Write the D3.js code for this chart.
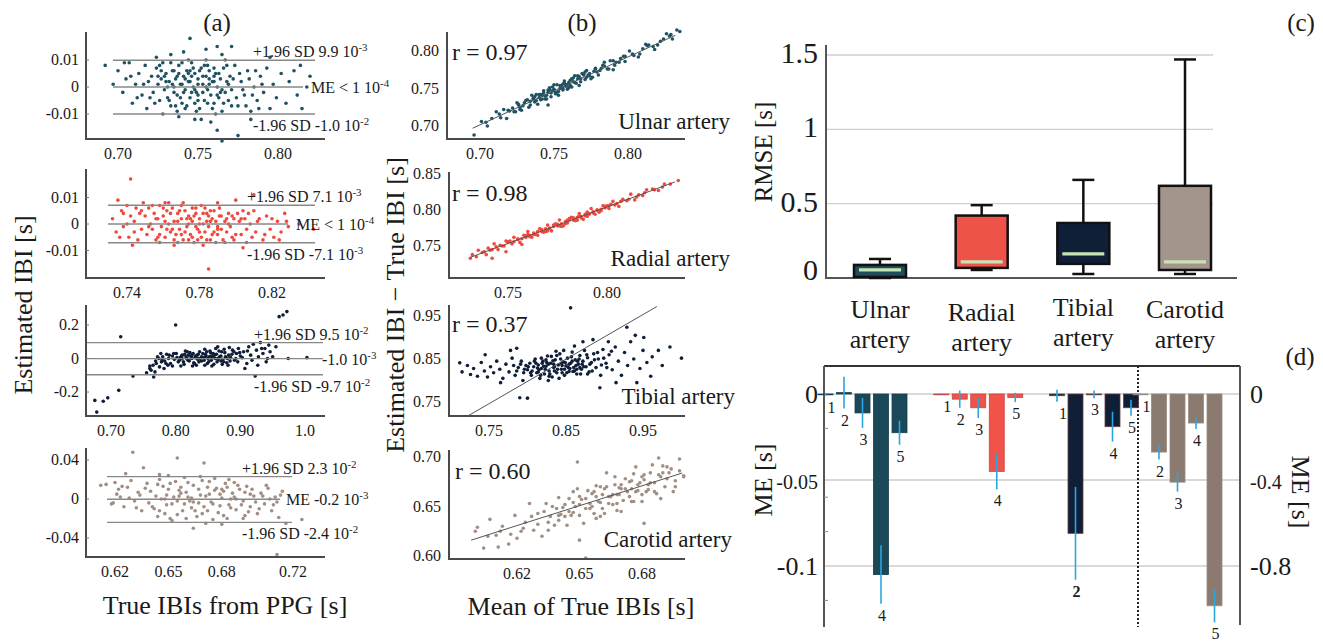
<!DOCTYPE html>
<html><head><meta charset="utf-8">
<script src="https://cdnjs.cloudflare.com/ajax/libs/d3/7.8.5/d3.min.js"></script>
<style>
body{margin:0;background:#fff}
svg{display:block}
text{font-family:"Liberation Serif","Times New Roman",serif;fill:#1a1a1a}
</style></head><body>
<script>
// ---------------- DATA ----------------
const arteries = ["Ulnar artery","Radial artery","Tibial artery","Carotid artery"];
const dotColors = ["#1f5263","#f0493e","#0f1f3a","#a38e82"];
const boxColors = ["#1f4d5d","#ef5249","#101f38","#a3958c"];
const barColors = ["#1b4858","#f0534a","#0f1f38","#8b7a6f"];

// (a) differences vs true IBI
const aUlnar = [[0.721,0.004],[0.722,-0.002],[0.724,0.007],[0.725,0.001],[0.726,-0.005],[0.727,0.003],[0.728,0.009],[0.729,-0.001],[0.730,0.005],[0.731,-0.004],[0.732,0.002],[0.733,-0.007],[0.734,0.006],[0.735,0.000],[0.736,0.003],[0.737,-0.003],[0.738,0.008],[0.739,0.001],[0.740,-0.006],[0.741,0.004],[0.742,-0.001],[0.743,0.006],[0.744,0.002],[0.745,-0.004],[0.746,0.009],[0.747,0.000],[0.748,0.005],[0.749,-0.002],[0.750,0.003],[0.751,-0.008],[0.752,0.007],[0.753,0.001],[0.754,-0.005],[0.755,0.004],[0.756,-0.001],[0.757,0.006],[0.758,-0.003],[0.759,0.002],[0.760,-0.006],[0.761,0.005],[0.762,0.000],[0.763,-0.004],[0.764,0.003],[0.765,-0.009],[0.766,0.007],[0.767,-0.002],[0.768,0.002],[0.769,-0.005],[0.770,0.004],[0.771,-0.001],[0.700,0.006],[0.703,-0.002],[0.705,0.003],[0.707,0.009],[0.709,-0.006],[0.711,0.001],[0.713,0.005],[0.715,-0.003],[0.717,0.008],[0.718,-0.008],[0.719,0.002],[0.692,0.008],[0.697,0.001],[0.773,0.008],[0.775,-0.007],[0.777,0.002],[0.779,-0.003],[0.781,0.006],[0.783,-0.009],[0.785,0.000],[0.787,-0.005],[0.789,0.004],[0.791,-0.002],[0.793,0.007],[0.795,-0.008],[0.797,0.001],[0.799,-0.004],[0.802,0.005],[0.805,-0.006],[0.807,0.002],[0.810,0.006],[0.812,-0.003],[0.815,-0.008],[0.818,0.000],[0.820,0.004],[0.814,0.008],[0.745,0.018],[0.733,0.012],[0.741,0.013],[0.755,0.014],[0.762,0.015],[0.771,0.015],[0.765,0.012],[0.752,-0.012],[0.748,-0.012],[0.762,-0.016],[0.765,-0.020],[0.775,-0.018],[0.758,-0.013],[0.783,-0.012],[0.728,-0.010],[0.738,-0.011],[0.724,0.011],[0.795,0.011],[0.735,-0.002],[0.742,0.003],[0.748,-0.006],[0.753,0.004],[0.757,0.001],[0.744,0.005],[0.739,-0.004],[0.731,0.000],[0.760,0.002],[0.764,-0.002],[0.727,0.006],[0.746,-0.002],[0.750,0.001],[0.756,0.008],[0.737,0.004],
[0.723,-0.006],[0.726,0.008],[0.729,0.004],[0.732,-0.005],[0.734,0.001],[0.736,-0.007],[0.738,0.005],[0.740,0.009],[0.741,-0.002],[0.743,-0.007],[0.745,0.002],[0.747,0.007],[0.748,-0.001],[0.750,-0.005],[0.751,0.006],[0.753,-0.002],[0.754,0.008],[0.756,-0.006],[0.757,0.003],[0.759,-0.008],[0.760,0.007],[0.762,-0.003],[0.763,0.005],[0.765,-0.001],[0.766,-0.006],[0.768,0.008],[0.769,0.001],[0.771,-0.007],[0.772,0.003],[0.774,-0.004],[0.776,0.005],[0.778,-0.001],[0.780,-0.007],[0.782,0.003],[0.784,-0.003],[0.786,0.006],[0.788,-0.008],[0.790,0.001],[0.733,0.009],[0.737,-0.009],[0.744,0.010],[0.749,-0.009],[0.755,0.010],[0.761,-0.010],[0.767,0.010],[0.730,0.002],[0.735,0.006],[0.740,0.001],[0.745,0.006],[0.750,-0.003],[0.755,0.000],[0.760,0.004],[0.725,0.004],[0.716,0.001],[0.712,-0.004],[0.708,0.004],[0.704,0.009],[0.720,-0.004],[0.742,-0.008],[0.746,0.004]];
const aRadial = [[0.750,0.003],[0.751,-0.004],[0.752,0.006],[0.753,0.000],[0.754,-0.002],[0.755,0.004],[0.756,-0.006],[0.757,0.002],[0.758,0.007],[0.759,-0.001],[0.760,0.003],[0.761,-0.005],[0.762,0.005],[0.763,0.000],[0.764,-0.003],[0.765,0.006],[0.766,0.001],[0.767,-0.004],[0.768,0.004],[0.769,-0.002],[0.770,0.002],[0.771,-0.006],[0.772,0.005],[0.773,-0.001],[0.774,0.003],[0.775,-0.004],[0.776,0.001],[0.777,-0.007],[0.778,0.004],[0.779,-0.002],[0.780,0.002],[0.781,-0.005],[0.782,0.000],[0.783,-0.003],[0.784,0.004],[0.785,-0.001],[0.786,-0.006],[0.787,0.002],[0.788,-0.003],[0.789,0.001],[0.790,-0.004],[0.791,0.003],[0.792,-0.002],[0.793,-0.006],[0.794,0.001],[0.795,-0.003],[0.796,0.004],[0.797,-0.001],[0.798,-0.005],[0.799,0.002],[0.763,0.008],[0.768,-0.007],[0.771,0.008],[0.776,0.006],[0.781,0.007],[0.786,0.005],[0.774,-0.006],[0.766,-0.006],[0.758,-0.004],[0.782,-0.008],[0.789,-0.007],[0.761,0.001],[0.778,-0.001],[0.784,0.001],[0.732,0.002],[0.734,-0.003],[0.735,0.009],[0.737,0.005],[0.738,-0.001],[0.740,0.007],[0.741,-0.005],[0.742,0.003],[0.743,-0.008],[0.744,0.001],[0.745,0.006],[0.746,-0.006],[0.747,0.004],[0.748,-0.002],[0.749,0.008],[0.742,0.017],[0.801,0.004],[0.803,-0.004],[0.805,0.002],[0.806,-0.007],[0.808,0.000],[0.810,0.005],[0.811,-0.003],[0.813,0.002],[0.815,-0.006],[0.817,0.003],[0.819,-0.002],[0.821,-0.005],[0.823,0.001],[0.825,-0.003],[0.827,0.004],[0.829,-0.001],[0.810,0.011],[0.843,-0.002],[0.835,0.000],[0.785,-0.017],[0.800,0.009],[0.804,-0.009],[0.790,0.008],
[0.752,-0.001],[0.754,0.007],[0.756,0.002],[0.758,-0.007],[0.760,0.006],[0.762,-0.002],[0.764,0.004],[0.766,-0.008],[0.768,0.001],[0.770,0.007],[0.772,-0.003],[0.774,0.000],[0.776,-0.005],[0.778,0.006],[0.780,-0.003],[0.782,0.004],[0.784,-0.006],[0.786,0.001],[0.788,0.005],[0.790,-0.001],[0.792,0.003],[0.794,-0.007],[0.796,0.000],[0.798,0.003],[0.800,-0.004],[0.802,0.001],[0.804,0.005],[0.806,-0.002],[0.809,-0.005],[0.812,0.001],[0.816,-0.004],[0.820,0.002],[0.824,-0.006],[0.828,0.001],[0.757,-0.005],[0.761,0.008],[0.765,-0.002],[0.769,0.005],[0.773,0.002],[0.777,0.003],[0.779,-0.006],[0.783,0.006],[0.787,-0.004],[0.791,0.006],[0.795,0.002],[0.799,-0.006],[0.803,0.002],[0.807,0.004],[0.740,0.000],[0.744,-0.003],[0.748,0.005],[0.738,0.004],[0.736,-0.005],[0.770,-0.004],[0.775,0.002],[0.780,0.000],[0.785,0.003],[0.790,-0.002]];
const aTibial = [[0.780,0.010],[0.783,-0.015],[0.786,0.025],[0.789,0.000],[0.792,-0.030],[0.795,0.015],[0.798,-0.005],[0.801,0.030],[0.804,-0.020],[0.807,0.005],[0.810,0.020],[0.813,-0.035],[0.816,0.010],[0.819,-0.010],[0.822,0.035],[0.825,0.000],[0.828,-0.025],[0.831,0.015],[0.834,-0.005],[0.837,0.040],[0.840,-0.015],[0.843,0.005],[0.846,0.025],[0.849,-0.030],[0.852,0.010],[0.855,-0.010],[0.858,0.030],[0.861,0.000],[0.864,-0.020],[0.867,0.045],[0.870,0.015],[0.873,-0.005],[0.876,0.035],[0.879,-0.025],[0.882,0.020],[0.885,0.005],[0.888,0.050],[0.891,-0.010],[0.894,0.030],[0.897,0.060],[0.900,0.015],[0.815,0.045],[0.826,-0.045],[0.835,0.025],[0.845,-0.040],[0.853,0.045],[0.862,0.060],[0.872,-0.035],[0.883,0.065],[0.808,-0.045],[0.795,-0.045],[0.820,0.020],[0.840,0.010],[0.850,0.000],[0.830,0.005],[0.860,0.020],[0.870,-0.015],[0.760,-0.060],[0.765,-0.040],[0.768,-0.080],[0.770,-0.030],[0.772,0.010],[0.775,-0.050],[0.778,-0.020],[0.766,-0.110],[0.762,-0.070],[0.755,-0.085],[0.782,-0.060],[0.788,-0.040],[0.777,0.030],[0.905,0.040],[0.910,-0.030],[0.913,0.070],[0.916,0.020],[0.920,0.085],[0.923,-0.105],[0.925,0.050],[0.928,0.010],[0.931,0.095],[0.935,0.030],[0.938,0.060],[0.942,0.000],[0.946,0.040],[0.950,0.010],[0.955,0.070],[0.940,-0.020],[0.907,-0.060],[0.974,0.000],[1.003,0.005],[0.966,0.260],[0.972,0.280],[0.960,0.250],[0.715,0.130],[0.734,-0.105],[0.712,-0.190],[0.675,-0.250],[0.688,-0.255],[0.695,-0.235],[0.678,-0.320],[0.800,0.200],[0.760,-0.045],
[0.802,0.005],[0.806,-0.010],[0.809,0.015],[0.812,-0.020],[0.814,0.025],[0.817,0.000],[0.821,-0.015],[0.824,0.010],[0.827,0.030],[0.829,-0.030],[0.833,0.020],[0.836,-0.020],[0.838,0.000],[0.842,0.030],[0.844,-0.010],[0.847,0.015],[0.851,-0.020],[0.854,0.035],[0.857,0.005],[0.859,-0.035],[0.863,0.025],[0.866,-0.005],[0.868,0.010],[0.871,0.040],[0.874,-0.020],[0.877,0.010],[0.880,0.000],[0.884,-0.015],[0.887,0.025],[0.890,0.040],[0.893,0.000],[0.896,-0.020],[0.899,0.035],[0.790,0.020],[0.785,-0.030],[0.797,0.030],[0.818,0.040],[0.832,-0.040],[0.848,0.040],[0.856,-0.045],[0.875,0.055],[0.865,0.070],[0.845,0.055],[0.825,0.020],[0.835,0.000],[0.845,0.005],[0.855,0.015],[0.865,0.000],[0.810,0.000],[0.820,-0.005],[0.779,-0.008],[0.774,0.000],[0.769,-0.015],[0.881,-0.040],[0.903,0.005],[0.911,0.045],[0.918,-0.010],[0.933,0.060],[0.944,0.080],[0.927,-0.040]];
const aCarotid = [[0.640,0.008],[0.642,-0.010],[0.644,0.015],[0.646,0.000],[0.648,-0.015],[0.650,0.010],[0.652,-0.005],[0.654,0.018],[0.656,0.003],[0.658,-0.012],[0.660,0.007],[0.662,-0.002],[0.664,0.014],[0.666,-0.018],[0.668,0.004],[0.670,-0.008],[0.672,0.012],[0.674,-0.003],[0.676,0.009],[0.678,-0.014],[0.680,0.001],[0.682,0.016],[0.684,-0.006],[0.686,0.006],[0.688,-0.011],[0.690,0.010],[0.692,-0.002],[0.694,0.013],[0.696,-0.008],[0.698,0.003],[0.700,-0.015],[0.645,0.020],[0.651,-0.020],[0.657,0.012],[0.663,-0.009],[0.669,0.019],[0.675,-0.021],[0.681,0.008],[0.687,0.017],[0.693,-0.017],[0.661,0.002],[0.667,-0.004],[0.673,0.005],[0.679,-0.007],[0.655,-0.002],[0.649,0.004],[0.685,0.000],[0.659,0.022],[0.671,-0.025],[0.683,-0.020],[0.612,0.014],[0.615,0.015],[0.618,-0.005],[0.620,0.017],[0.623,0.002],[0.625,-0.008],[0.627,0.012],[0.629,0.019],[0.631,-0.002],[0.633,0.007],[0.635,-0.012],[0.637,0.011],[0.639,-0.004],[0.626,0.026],[0.630,0.048],[0.636,0.032],[0.619,-0.004],[0.622,0.010],[0.702,0.006],[0.704,-0.005],[0.706,0.011],[0.708,-0.012],[0.710,0.002],[0.712,-0.019],[0.714,0.008],[0.716,-0.025],[0.705,0.014],[0.711,-0.003],[0.725,-0.021],[0.711,-0.057],[0.655,0.042],[0.670,0.037],[0.664,-0.030],[0.650,0.024],[0.645,0.025],[0.680,-0.026],
[0.641,-0.008],[0.643,0.003],[0.645,-0.012],[0.647,0.013],[0.649,-0.006],[0.651,0.016],[0.653,0.002],[0.655,-0.016],[0.657,0.006],[0.659,-0.005],[0.661,0.017],[0.663,0.001],[0.665,-0.012],[0.667,0.010],[0.669,-0.015],[0.671,0.003],[0.673,0.018],[0.675,-0.005],[0.677,0.011],[0.679,0.005],[0.681,-0.017],[0.683,0.012],[0.685,-0.009],[0.687,0.002],[0.689,0.014],[0.691,-0.006],[0.693,0.007],[0.695,-0.013],[0.697,0.010],[0.699,-0.003],[0.701,-0.010],[0.703,0.003],[0.707,0.000],[0.709,-0.006],[0.713,0.004],[0.648,0.000],[0.656,0.009],[0.664,-0.003],[0.672,-0.012],[0.680,0.010],[0.688,0.000],[0.696,0.005],[0.634,0.004],[0.638,0.016],[0.632,-0.009],[0.628,0.001],[0.624,0.013],[0.621,0.005],[0.660,-0.020],[0.676,0.021],[0.668,0.023],[0.684,0.020],[0.692,-0.020],[0.652,-0.022],[0.644,-0.018]];
const aXTicks = [[0.70,0.75,0.80],[0.74,0.78,0.82],[0.70,0.80,0.90,1.0],[0.62,0.65,0.68,0.72]];
const aXTickLabels = [["0.70","0.75","0.80"],["0.74","0.78","0.82"],["0.70","0.80","0.90","1.0"],["0.62","0.65","0.68","0.72"]];
const aYTicks = [[0.01,0,-0.01],[0.01,0,-0.01],[0.2,0,-0.2],[0.04,0,-0.04]];
const aYTickLabels = [["0.01","0","-0.01"],["0.01","0","-0.01"],["0.2","0","-0.2"],["0.04","0","-0.04"]];
const aLimits = [[0.0099,0,-0.0100],[0.0071,0,-0.0071],[0.095,-0.001,-0.097],[0.023,-0.0002,-0.024]];
const aLimitText = [
  [["+1.96 SD 9.9 10","-3"],["ME < 1 10","-4"],["-1.96 SD -1.0 10","-2"]],
  [["+1.96 SD 7.1 10","-3"],["ME < 1 10","-4"],["-1.96 SD -7.1 10","-3"]],
  [["+1.96 SD 9.5 10","-2"],["-1.0 10","-3"],["-1.96 SD -9.7 10","-2"]],
  [["+1.96 SD 2.3 10","-2"],["ME -0.2 10","-3"],["-1.96 SD -2.4 10","-2"]]
];

// (b) estimated vs true IBI
const bUlnar = [[0.701,0.706],[0.705,0.700],[0.708,0.710],[0.711,0.719],[0.714,0.711],[0.716,0.722],[0.718,0.710],[0.720,0.720],[0.722,0.724],[0.724,0.719],[0.725,0.731],[0.727,0.725],[0.728,0.721],[0.730,0.731],[0.731,0.734],[0.733,0.725],[0.734,0.733],[0.735,0.741],[0.737,0.732],[0.738,0.742],[0.739,0.729],[0.740,0.738],[0.741,0.742],[0.742,0.736],[0.743,0.747],[0.744,0.740],[0.745,0.736],[0.746,0.745],[0.747,0.748],[0.748,0.739],[0.749,0.747],[0.750,0.755],[0.751,0.745],[0.752,0.755],[0.753,0.741],[0.754,0.750],[0.755,0.754],[0.756,0.748],[0.757,0.760],[0.758,0.753],[0.759,0.749],[0.760,0.758],[0.761,0.761],[0.762,0.752],[0.763,0.759],[0.764,0.767],[0.765,0.757],[0.766,0.767],[0.767,0.754],[0.768,0.763],[0.770,0.768],[0.771,0.762],[0.772,0.774],[0.774,0.767],[0.775,0.763],[0.777,0.773],[0.778,0.776],[0.780,0.768],[0.782,0.777],[0.784,0.785],[0.786,0.776],[0.788,0.787],[0.790,0.775],[0.792,0.785],[0.795,0.790],[0.798,0.786],[0.801,0.800],[0.804,0.794],[0.807,0.792],[0.810,0.803],[0.814,0.808],[0.818,0.802],[0.822,0.813],[0.826,0.823],[0.830,0.816],[0.833,0.828],[0.696,0.688],[0.704,0.705],[0.713,0.716],[0.726,0.728],[0.736,0.737],[0.743,0.744],[0.749,0.752],[0.753,0.746],[0.756,0.756],[0.759,0.755],[0.763,0.764],[0.769,0.770],[0.773,0.768],[0.779,0.772],[0.783,0.781],[0.791,0.781],[0.797,0.793],[0.812,0.809],[0.820,0.808],[0.828,0.820],[0.835,0.826],[0.746,0.728],
[0.719,0.721],[0.723,0.719],[0.726,0.729],[0.729,0.727],[0.732,0.735],[0.734,0.728],[0.736,0.736],[0.738,0.734],[0.740,0.742],[0.742,0.741],[0.744,0.736],[0.746,0.748],[0.748,0.744],[0.750,0.749],[0.752,0.745],[0.754,0.754],[0.756,0.750],[0.758,0.755],[0.760,0.751],[0.762,0.763],[0.764,0.758],[0.766,0.763],[0.768,0.759],[0.770,0.769],[0.772,0.765],[0.774,0.770],[0.776,0.765],[0.778,0.777],[0.781,0.774],[0.784,0.780],[0.787,0.776],[0.790,0.787],[0.794,0.785],[0.798,0.793],[0.803,0.796],[0.808,0.796],[0.813,0.807],[0.817,0.806],[0.824,0.816],[0.829,0.822],[0.727,0.722],[0.737,0.739],[0.747,0.751],[0.757,0.757],[0.767,0.766],[0.751,0.743],[0.761,0.754],[0.771,0.772],[0.741,0.735],[0.745,0.741]];
const bRadial = [[0.732,0.738],[0.734,0.735],[0.735,0.744],[0.737,0.741],[0.739,0.738],[0.740,0.747],[0.742,0.745],[0.743,0.753],[0.745,0.745],[0.746,0.751],[0.748,0.750],[0.749,0.757],[0.751,0.757],[0.752,0.753],[0.753,0.762],[0.755,0.759],[0.756,0.755],[0.758,0.765],[0.759,0.762],[0.760,0.770],[0.762,0.762],[0.763,0.768],[0.764,0.766],[0.766,0.774],[0.767,0.773],[0.768,0.769],[0.770,0.779],[0.771,0.775],[0.772,0.771],[0.774,0.781],[0.775,0.778],[0.776,0.786],[0.778,0.778],[0.779,0.784],[0.780,0.782],[0.782,0.790],[0.783,0.789],[0.784,0.785],[0.786,0.795],[0.787,0.791],[0.788,0.787],[0.790,0.797],[0.791,0.794],[0.792,0.802],[0.794,0.794],[0.795,0.800],[0.797,0.799],[0.798,0.806],[0.800,0.806],[0.801,0.802],[0.803,0.812],[0.805,0.809],[0.806,0.805],[0.808,0.815],[0.810,0.813],[0.812,0.822],[0.814,0.814],[0.816,0.821],[0.818,0.820],[0.820,0.828],[0.823,0.829],[0.826,0.827],[0.829,0.836],[0.832,0.836],[0.836,0.841],[0.742,0.733],[0.749,0.742],[0.757,0.752],[0.765,0.765],[0.769,0.770],[0.777,0.777],[0.781,0.788],[0.785,0.786],[0.789,0.792],[0.793,0.798],[0.796,0.797],[0.799,0.805],[0.802,0.808],[0.761,0.763],[0.773,0.779],[0.750,0.756],[0.731,0.733],
[0.738,0.742],[0.741,0.744],[0.744,0.749],[0.747,0.750],[0.750,0.755],[0.753,0.756],[0.755,0.760],[0.757,0.760],[0.759,0.764],[0.761,0.765],[0.763,0.766],[0.765,0.770],[0.767,0.770],[0.769,0.774],[0.771,0.774],[0.773,0.777],[0.775,0.780],[0.777,0.781],[0.779,0.781],[0.781,0.786],[0.783,0.786],[0.785,0.790],[0.787,0.789],[0.789,0.794],[0.791,0.795],[0.793,0.796],[0.795,0.800],[0.797,0.801],[0.799,0.803],[0.801,0.806],[0.804,0.807],[0.807,0.812],[0.811,0.815],[0.815,0.818],[0.819,0.824],[0.824,0.828],[0.828,0.832],[0.770,0.771],[0.780,0.786],[0.790,0.791],[0.760,0.766],[0.776,0.778],[0.786,0.792]];
const bTibial = [[0.800,0.825],[0.803,0.840],[0.805,0.812],[0.808,0.832],[0.810,0.850],[0.812,0.818],[0.814,0.836],[0.816,0.805],[0.818,0.828],[0.820,0.845],[0.822,0.815],[0.824,0.833],[0.826,0.857],[0.828,0.822],[0.830,0.840],[0.832,0.808],[0.834,0.830],[0.836,0.848],[0.838,0.818],[0.840,0.836],[0.842,0.862],[0.844,0.826],[0.846,0.843],[0.848,0.812],[0.850,0.834],[0.852,0.852],[0.854,0.821],[0.856,0.840],[0.858,0.866],[0.860,0.830],[0.862,0.848],[0.864,0.815],[0.866,0.838],[0.868,0.858],[0.870,0.826],[0.872,0.845],[0.874,0.870],[0.876,0.832],[0.878,0.853],[0.880,0.820],[0.883,0.842],[0.886,0.862],[0.889,0.830],[0.892,0.850],[0.895,0.812],[0.898,0.872],[0.815,0.825],[0.825,0.842],[0.835,0.822],[0.845,0.835],[0.855,0.828],[0.865,0.845],[0.831,0.856],[0.841,0.805],[0.851,0.818],[0.821,0.833],[0.811,0.840],[0.861,0.822],[0.871,0.838],[0.827,0.800],[0.847,0.870],[0.837,0.868],[0.712,0.841],[0.715,0.820],[0.722,0.835],[0.726,0.814],[0.730,0.828],[0.735,0.810],[0.740,0.842],[0.744,0.822],[0.748,0.808],[0.752,0.832],[0.756,0.818],[0.760,0.845],[0.764,0.826],[0.768,0.805],[0.772,0.838],[0.776,0.820],[0.780,0.852],[0.784,0.812],[0.788,0.830],[0.792,0.845],[0.795,0.818],[0.798,0.835],[0.790,0.760],[0.800,0.759],[0.778,0.870],[0.765,0.795],[0.745,0.860],[0.786,0.875],[0.794,0.800],[0.902,0.840],[0.906,0.860],[0.910,0.825],[0.914,0.878],[0.918,0.845],[0.922,0.812],[0.926,0.865],[0.930,0.835],[0.934,0.890],[0.938,0.850],[0.942,0.795],[0.946,0.828],[0.950,0.870],[0.955,0.842],[0.960,0.810],[0.970,0.870],[0.985,0.878],[1.000,0.852],[0.975,0.835],[0.894,0.783],[0.929,0.924],[0.951,0.900],[0.940,0.905],[0.856,0.969],[0.915,0.795],[0.905,0.890],[0.885,0.895],[0.872,0.890],[0.962,0.855],
[0.801,0.832],[0.806,0.822],[0.809,0.845],[0.813,0.829],[0.817,0.812],[0.819,0.840],[0.823,0.826],[0.827,0.838],[0.829,0.815],[0.833,0.846],[0.835,0.832],[0.839,0.826],[0.843,0.850],[0.845,0.818],[0.849,0.842],[0.853,0.830],[0.857,0.855],[0.859,0.821],[0.863,0.835],[0.867,0.850],[0.869,0.815],[0.873,0.832],[0.877,0.860],[0.881,0.838],[0.884,0.822],[0.887,0.848],[0.891,0.865],[0.818,0.852],[0.828,0.810],[0.838,0.858],[0.848,0.826],[0.858,0.845],[0.868,0.830],[0.878,0.815],[0.824,0.848],[0.834,0.838],[0.844,0.840],[0.854,0.838],[0.864,0.826],[0.814,0.820],[0.804,0.818],[0.796,0.826],[0.791,0.838],[0.786,0.822],[0.782,0.835],[0.899,0.852],[0.903,0.830],[0.909,0.868],[0.896,0.836],[0.861,0.880]];
const bCarotid = [[0.600,0.625],[0.604,0.608],[0.607,0.637],[0.610,0.621],[0.613,0.630],[0.616,0.612],[0.619,0.641],[0.622,0.625],[0.624,0.634],[0.626,0.653],[0.628,0.626],[0.630,0.643],[0.632,0.620],[0.634,0.653],[0.636,0.640],[0.637,0.650],[0.638,0.631],[0.640,0.659],[0.641,0.642],[0.642,0.649],[0.644,0.631],[0.645,0.658],[0.646,0.641],[0.648,0.650],[0.649,0.668],[0.650,0.641],[0.651,0.657],[0.652,0.633],[0.654,0.666],[0.655,0.653],[0.656,0.663],[0.657,0.643],[0.658,0.671],[0.660,0.654],[0.661,0.662],[0.662,0.643],[0.663,0.670],[0.664,0.653],[0.666,0.662],[0.667,0.680],[0.668,0.653],[0.669,0.669],[0.670,0.645],[0.672,0.678],[0.673,0.665],[0.674,0.675],[0.675,0.655],[0.676,0.683],[0.678,0.666],[0.679,0.674],[0.680,0.655],[0.681,0.682],[0.682,0.665],[0.684,0.674],[0.685,0.692],[0.686,0.665],[0.688,0.682],[0.689,0.658],[0.690,0.691],[0.692,0.678],[0.694,0.688],[0.696,0.670],[0.698,0.698],[0.700,0.681],[0.611,0.609],[0.601,0.629],[0.649,0.695],[0.688,0.699],[0.700,0.680],[0.653,0.598],[0.650,0.616],[0.681,0.633],[0.645,0.645],[0.655,0.648],[0.665,0.660],[0.675,0.668],[0.683,0.672],[0.660,0.640],[0.670,0.672],[0.640,0.636],[0.630,0.632],[0.620,0.618],[0.692,0.690],[0.677,0.690],[0.663,0.684],[0.647,0.665],[0.635,0.626],[0.695,0.665],[0.658,0.660],[0.668,0.662],
[0.633,0.645],[0.635,0.634],[0.639,0.648],[0.643,0.652],[0.643,0.640],[0.647,0.654],[0.647,0.644],[0.650,0.660],[0.653,0.648],[0.653,0.658],[0.656,0.650],[0.657,0.665],[0.659,0.655],[0.661,0.648],[0.662,0.668],[0.664,0.660],[0.666,0.652],[0.667,0.672],[0.669,0.662],[0.671,0.656],[0.672,0.668],[0.674,0.660],[0.675,0.676],[0.677,0.665],[0.678,0.672],[0.680,0.662],[0.681,0.677],[0.683,0.667],[0.684,0.684],[0.686,0.674],[0.687,0.663],[0.689,0.680],[0.691,0.670],[0.693,0.684],[0.696,0.676],[0.698,0.686],[0.660,0.670],[0.650,0.652],[0.640,0.641],[0.670,0.668],[0.680,0.680],[0.690,0.684],[0.627,0.640],[0.623,0.628],[0.617,0.622],[0.612,0.625],[0.606,0.620],[0.658,0.638],[0.668,0.646],[0.676,0.655]];
const bXTicks = [[0.70,0.75,0.80],[0.75,0.80],[0.75,0.85,0.95],[0.62,0.65,0.68]];
const bYTicks = [[0.80,0.75,0.70],[0.85,0.80,0.75],[0.95,0.85,0.75],[0.70,0.65,0.60]];
const bR = ["r = 0.97","r = 0.98","r = 0.37","r = 0.60"];
const bFitStart = [[0.695,0.697],[0.731,0.7343],[0.723,0.718],[0.598,0.616]];
const bFitEnd = [[0.832,0.821],[0.8343,0.8389],[0.968,0.972],[0.6993,0.6838]];

// (c) RMSE box plots
const rmseMin = [0.000,0.054,0.027,0.027];
const rmseQ1  = [0.007,0.068,0.095,0.054];
const rmseMed = [0.054,0.108,0.162,0.108];
const rmseQ3  = [0.088,0.420,0.370,0.620];
const rmseMax = [0.128,0.490,0.660,1.470];
const rmseTicks = [0,0.5,1,1.5];
const rmseTickLabels = ["0","0.5","1","1.5"];

// (d) mean errors per subject (1-5)
const subjects = ["1","2","3","4","5"];
const meUlnar   = [-0.0003, 0.0008,-0.011,-0.105,-0.0225];
const errUlnar  = [0.0006,0.0093,0.0087,0.017,0.007];
const meRadial  = [-0.0003,-0.003,-0.008,-0.045,-0.002];
const errRadial = [0.0005,0.005,0.006,0.0105,0.0027];
const meTibial  = [-0.001,-0.081,-0.0002,-0.019,-0.008];
const errTibial = [0.0035,0.027,0.0023,0.0087,0.0047];
const meCarotid = [-0.002,-0.27,-0.41,-0.135,-0.985];
const errCarotid= [0.003,0.035,0.044,0.028,0.077];
const meLeftTicks = [0,-0.05,-0.1];
const meLeftTickLabels = ["0","-0.05","-0.1"];
const meLeftMinor = [-0.02,-0.06,-0.08,-0.12];
const meRightTicks = [0,-0.4,-0.8];
const meRightTickLabels = ["0","-0.4","-0.8"];

// ---------------- DRAW ----------------
const svg = d3.select("body").append("svg").attr("width",1323).attr("height",643);
function txt(g,x,y,s,size,anchor){
  return g.append("text").attr("x",x).attr("y",y).attr("font-size",size)
    .attr("text-anchor",anchor||"start").text(s);
}
function supText(g,x,y,base,exp,size){
  const t = g.append("text").attr("x",x).attr("y",y).attr("font-size",size);
  t.append("tspan").text(base);
  t.append("tspan").attr("dy",-6).attr("font-size",size*0.68).text(exp);
  return t;
}
const R = 1.8;

// ---- panel (a)
const aSets = [aUlnar,aRadial,aTibial,aCarotid];
const aLayout = [
  {t:32,b:139,xc:[0.70,118,0.80,278],yc:[0.01,60,-0.01,114],sdX:[113,315],meX:[113,303],tx:253,mx:311},
  {t:169,b:278,xc:[0.74,127,0.82,272],yc:[0.01,197.5,-0.01,250.5],sdX:[108,315],meX:[108,288],tx:247,mx:296},
  {t:305,b:416,xc:[0.70,111,1.0,305],yc:[0.2,325,-0.2,392],sdX:[87,323],meX:[87,323],tx:254,mx:322},
  {t:448,b:557,xc:[0.62,115,0.72,293],yc:[0.04,460,-0.04,538],sdX:[107,292],meX:[107,280],tx:242,mx:286}
];
const aL = 86, aR = 325;
aLayout.forEach((L,i)=>{
  const g = svg.append("g");
  const x = d3.scaleLinear().domain([L.xc[0],L.xc[2]]).range([L.xc[1],L.xc[3]]);
  const y = d3.scaleLinear().domain([L.yc[0],L.yc[2]]).range([L.yc[1],L.yc[3]]);
  g.selectAll("circle").data(aSets[i]).join("circle")
    .attr("cx",d=>x(d[0])).attr("cy",d=>y(d[1])).attr("r",R).attr("fill",dotColors[i]);
  aLimits[i].forEach((v,k)=>{
    const e = k===1 ? L.meX : L.sdX;
    g.append("line").attr("x1",e[0]).attr("x2",e[1]).attr("y1",y(v)).attr("y2",y(v))
      .attr("stroke","#888").attr("stroke-width",1.4);
  });
  g.append("path").attr("d",`M${aL},${L.t}V${L.b}H${aR}`).attr("fill","none")
    .attr("stroke","#4a4a4a").attr("stroke-width",2);
  aYTicks[i].forEach(v=>g.append("line").attr("x1",aL).attr("x2",aL+3).attr("y1",y(v)).attr("y2",y(v))
    .attr("stroke","#777").attr("stroke-width",1));
  aXTicks[i].forEach((v,k)=>txt(g,x(v),L.b+20,aXTickLabels[i][k],16,"middle"));
  aYTicks[i].forEach((v,k)=>txt(g,79,y(v)+5,aYTickLabels[i][k],16,"end"));
  const lt = aLimitText[i];
  supText(g,L.tx,y(aLimits[i][0])-3,lt[0][0],lt[0][1],16);
  supText(g,L.mx,y(aLimits[i][1])+6,lt[1][0],lt[1][1],16);
  supText(g,L.tx,y(aLimits[i][2])+17,lt[2][0],lt[2][1],16);
});
txt(svg,217,31,"(a)",25,"middle");
txt(svg,225,614,"True IBIs from PPG [s]",26,"middle");
svg.append("text").attr("transform","translate(32,305) rotate(-90)").attr("font-size",26)
  .attr("text-anchor","middle").text("Estimated IBI [s]");

// ---- panel (b)
const bSets = [bUlnar,bRadial,bTibial,bCarotid];
const bLayout = [
  {l:447,t:32,b:139,xc:[0.70,480,0.80,628],yc:[0.80,51,0.70,126],rx:452,ry:60,nx:730,ny:129},
  {l:449,t:172,b:278,xc:[0.75,508,0.80,607],yc:[0.85,174,0.75,246],rx:452,ry:201,nx:730,ny:266},
  {l:449,t:305,b:416,xc:[0.75,489,0.95,643],yc:[0.95,316,0.75,402],rx:452,ry:332,nx:735,ny:404},
  {l:449,t:450,b:559,xc:[0.62,517,0.68,642],yc:[0.70,457,0.60,556],rx:455,ry:479,nx:732,ny:547}
];
const bRight = 685;
bLayout.forEach((L,i)=>{
  const g = svg.append("g");
  const x = d3.scaleLinear().domain([L.xc[0],L.xc[2]]).range([L.xc[1],L.xc[3]]);
  const y = d3.scaleLinear().domain([L.yc[0],L.yc[2]]).range([L.yc[1],L.yc[3]]);
  g.selectAll("circle").data(bSets[i]).join("circle")
    .attr("cx",d=>x(d[0])).attr("cy",d=>y(d[1])).attr("r",R).attr("fill",dotColors[i]);
  g.append("line").attr("x1",x(bFitStart[i][0])).attr("y1",y(bFitStart[i][1]))
    .attr("x2",x(bFitEnd[i][0])).attr("y2",y(bFitEnd[i][1]))
    .attr("stroke","#555").attr("stroke-width",1);
  g.append("path").attr("d",`M${L.l},${L.t}V${L.b}H${bRight}`).attr("fill","none")
    .attr("stroke","#4a4a4a").attr("stroke-width",2);
  bXTicks[i].forEach(v=>txt(g,x(v),L.b+20,d3.format(".2f")(v),16,"middle"));
  bYTicks[i].forEach(v=>txt(g,L.l-8,y(v)+5,d3.format(".2f")(v),16,"end"));
  txt(g,L.rx,L.ry,bR[i],24,"start");
  txt(g,L.nx,L.ny,arteries[i],23,"end");
});
txt(svg,582,31,"(b)",25,"middle");
txt(svg,581,615,"Mean of True IBIs [s]",26,"middle");
svg.append("text").attr("transform","translate(404,305) rotate(-90)").attr("font-size",26)
  .attr("text-anchor","middle").text("Estimated IBI \u2212 True IBI [s]");

// ---- panel (c)
const gc = svg.append("g");
const cy = d3.scaleLinear().domain([0,1.5]).range([278,55]);
const cx = d3.scalePoint().domain(arteries).range([880,1185]);
rmseTicks.filter(v=>v>0).forEach(v=>{
  gc.append("line").attr("x1",826).attr("x2",1213).attr("y1",cy(v)).attr("y2",cy(v))
    .attr("stroke","#cfcfcf").attr("stroke-width",1.3);
});
gc.append("path").attr("d",`M826,45V${cy(0)}H1237`).attr("fill","none")
  .attr("stroke","#555").attr("stroke-width",2);
rmseTicks.forEach((v,k)=>txt(gc,818,cy(v)+(v===0?2:8),rmseTickLabels[k],30,"end"));
arteries.forEach((a,i)=>{
  const xc = cx(a), bw=52, cw=22;
  const ln=(x1,y1,x2,y2)=>gc.append("line").attr("x1",x1).attr("y1",y1).attr("x2",x2).attr("y2",y2)
      .attr("stroke","#111").attr("stroke-width",2.5);
  ln(xc,cy(rmseMax[i]),xc,cy(rmseQ3[i]));
  ln(xc,cy(rmseQ1[i]),xc,cy(rmseMin[i]));
  ln(xc-cw/2,cy(rmseMax[i]),xc+cw/2,cy(rmseMax[i]));
  ln(xc-cw/2,cy(rmseMin[i]),xc+cw/2,cy(rmseMin[i]));
  gc.append("rect").attr("x",xc-bw/2).attr("width",bw)
    .attr("y",cy(rmseQ3[i])).attr("height",cy(rmseQ1[i])-cy(rmseQ3[i]))
    .attr("fill",boxColors[i]).attr("stroke","#111").attr("stroke-width",2.5);
  gc.append("line").attr("x1",xc-21).attr("x2",xc+21).attr("y1",cy(rmseMed[i])).attr("y2",cy(rmseMed[i]))
    .attr("stroke","#c8e3b3").attr("stroke-width",3.2);
  const words = a.split(" ");
  const dy = [0,3,-2,0][i];
  const t = gc.append("text").attr("font-size",26).attr("text-anchor","middle");
  t.append("tspan").attr("x",xc).attr("y",318+dy).text(words[0]);
  t.append("tspan").attr("x",xc).attr("y",348+dy).text(words[1]);
});
gc.append("text").attr("transform","translate(772,152) rotate(-90)").attr("font-size",25)
  .attr("text-anchor","middle").text("RMSE [s]");
txt(svg,1301,31,"(c)",25,"middle");

// ---- panel (d)
const gd = svg.append("g");
const dL=824, dR=1240, dT=366, dB=627, divX=1138;
const yl = d3.scaleLinear().domain([0,-0.1]).range([394,566]);
const yr = d3.scaleLinear().domain([0,-0.8]).range([394,566]);
meLeftTicks.forEach(v=>gd.append("line").attr("x1",dL).attr("x2",dR).attr("y1",yl(v)).attr("y2",yl(v))
  .attr("stroke","#cdcdcd").attr("stroke-width",1.3));
gd.append("line").attr("x1",dL).attr("x2",dR).attr("y1",dT).attr("y2",dT).attr("stroke","#333").attr("stroke-width",2);
gd.append("line").attr("x1",dL).attr("x2",dL).attr("y1",dT).attr("y2",dB).attr("stroke","#555").attr("stroke-width",2);
gd.append("line").attr("x1",dR).attr("x2",dR).attr("y1",dT).attr("y2",dB-2).attr("stroke","#555").attr("stroke-width",2);
meLeftMinor.forEach(v=>gd.append("line").attr("x1",dL).attr("x2",dL+4).attr("y1",yl(v)).attr("y2",yl(v))
  .attr("stroke","#888").attr("stroke-width",1));
gd.append("line").attr("x1",divX).attr("x2",divX).attr("y1",dT).attr("y2",dB)
  .attr("stroke","#222").attr("stroke-width",2).attr("stroke-dasharray","2,2");
const groupX = d3.scalePoint().domain(arteries.slice(0,3)).range([862.5,1094]);
const barX = d3.scaleBand().domain(subjects).range([-44.5,44.5]).paddingInner(0.19);
const groups = [
  {me:meUlnar,err:errUlnar,y:yl,cx:groupX(arteries[0])},
  {me:meRadial,err:errRadial,y:yl,cx:groupX(arteries[1])},
  {me:meTibial,err:errTibial,y:yl,cx:groupX(arteries[2])},
  {me:meCarotid,err:errCarotid,y:yr,cx:divX+39.5}
];
const barStroke = ["#163c4a","#c9463e","#6b3a3a","#9a8b82"];
groups.forEach((G,gi)=>{
  G.me.forEach((v,k)=>{
    const x0 = G.cx + barX(subjects[k]);
    const w = barX.bandwidth();
    const y0 = G.y(0), y1 = G.y(v);
    gd.append("rect").attr("x",x0).attr("width",w)
      .attr("y",Math.min(y0,y1)).attr("height",Math.max(0.8,Math.abs(y1-y0)))
      .attr("fill",barColors[gi]).attr("stroke",barStroke[gi]).attr("stroke-width",0.8);
    const xm = x0 + w/2;
    const eTop = G.y(v+G.err[k]), eBot = G.y(v-G.err[k]);
    gd.append("line").attr("x1",xm).attr("x2",xm).attr("y1",eTop).attr("y2",eBot)
      .attr("stroke","#2aa6e0").attr("stroke-width",1.6);
    txt(gd,xm+(k===0?6:1),eBot+17,subjects[k],16,"middle")
      .attr("font-weight",(gi===2&&k===1)?"bold":"normal");
  });
});
meLeftTicks.forEach((v,k)=>txt(gd,818,yl(v)+9,meLeftTickLabels[k],k===1?20:26,"end"));
meRightTicks.forEach((v,k)=>txt(gd,1250,yr(v)+9,meRightTickLabels[k],k===1?20:26,"start"));
gd.append("text").attr("transform","translate(772,480) rotate(-90)").attr("font-size",26)
  .attr("text-anchor","middle").text("ME [s]");
gd.append("text").attr("transform","translate(1292,492) rotate(90)").attr("font-size",26)
  .attr("text-anchor","middle").text("ME [s]");
txt(svg,1300,365,"(d)",25,"middle");
</script>
</body></html>
